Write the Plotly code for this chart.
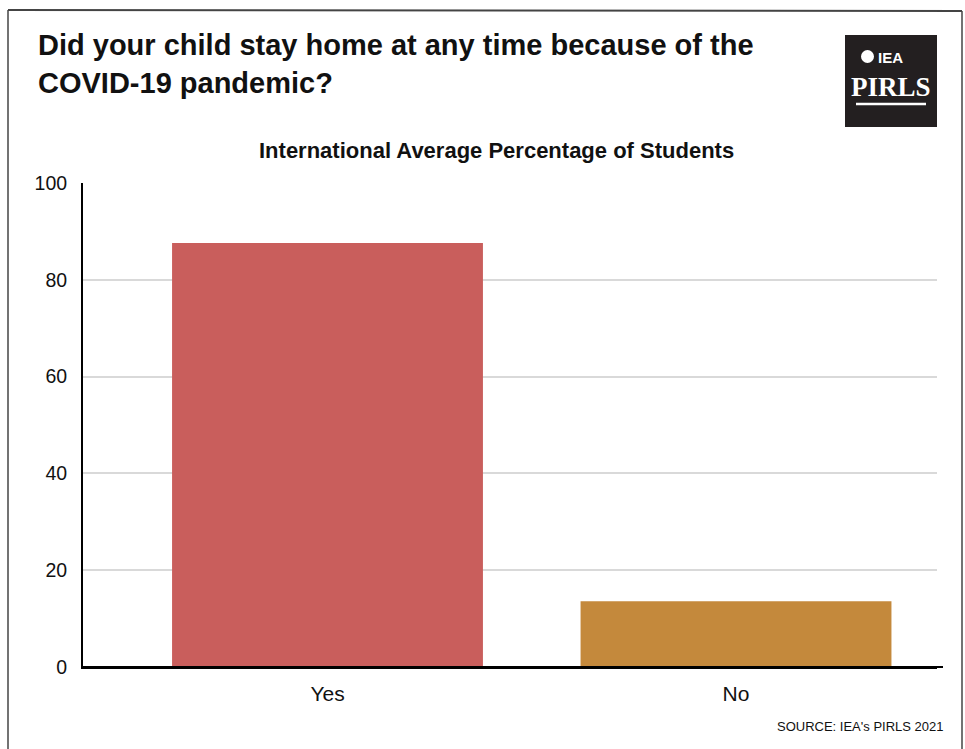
import plotly.graph_objects as go

categories = ["Yes", "No"]
values = [87.6, 13.6]
bar_colors = ["#C95E5C", "#C4893C"]
y_ticks = [0, 20, 40, 60, 80, 100]

W, H = 965, 749
L, R, T, B = 83, 937, 183, 667  # plot area in px

def px(x):
    return (x - L) / (R - L)

def py(y):
    return (B - y) / (B - T)

fig = go.Figure(go.Bar(
    x=categories, y=values, marker_color=bar_colors, width=0.761,
    marker_line_width=0, hoverinfo="x+y",
))

shapes = [
    # outer frame
    dict(type="line", xref="paper", yref="paper", x0=px(8), y0=py(10), x1=px(962), y1=py(11),
         line=dict(color="#444", width=2)),
    dict(type="line", xref="paper", yref="paper", x0=px(8), y0=py(10), x1=px(8), y1=py(760),
         line=dict(color="#444", width=1.5)),
    dict(type="line", xref="paper", yref="paper", x0=px(962), y0=py(11), x1=px(962), y1=py(760),
         line=dict(color="#444", width=1.5)),
    # x-axis line extension to the right
    dict(type="line", xref="paper", yref="paper", x0=px(83), y0=py(667), x1=px(943), y1=py(667),
         line=dict(color="black", width=2), layer="above"),
    # logo box
    dict(type="rect", xref="paper", yref="paper", x0=px(845), y0=py(35), x1=px(937), y1=py(127),
         fillcolor="#231F20", line=dict(width=0), layer="above"),
    dict(type="line", xref="paper", yref="paper", x0=px(856), y0=py(104), x1=px(926), y1=py(104),
         line=dict(color="white", width=2.5), layer="above"),
    dict(type="circle", xref="paper", yref="paper", x0=px(861), y0=py(50), x1=px(874), y1=py(63),
         fillcolor="white", line=dict(width=0), layer="above"),
]

annotations = [
    dict(text="<b>Did your child stay home at any time because of the<br>COVID-19 pandemic?</b>",
         xref="paper", yref="paper", x=px(36), y=py(27), xanchor="left", yanchor="top",
         align="left", showarrow=False,
         font=dict(family="Liberation Sans, Arial", size=29, color="#111")),
    dict(text="<b>International Average Percentage of Students</b>",
         xref="paper", yref="paper", x=px(496), y=py(150), xanchor="center", yanchor="middle",
         showarrow=False, font=dict(family="Liberation Sans, Arial", size=22, color="#111")),
    dict(text="SOURCE: IEA's PIRLS 2021",
         xref="paper", yref="paper", x=px(946), y=py(726), xanchor="right", yanchor="middle",
         showarrow=False, font=dict(family="Liberation Sans, Arial", size=13, color="#111")),
    dict(text="<b>IEA</b>",
         xref="paper", yref="paper", x=px(876), y=py(57), xanchor="left", yanchor="middle",
         showarrow=False, font=dict(family="Liberation Sans, Arial", size=15, color="white")),
    dict(text="<b>PIRLS</b>",
         xref="paper", yref="paper", x=px(891), y=py(87), xanchor="center", yanchor="middle",
         showarrow=False, font=dict(family="Liberation Serif, DejaVu Serif", size=27, color="white")),
]

fig.update_layout(
    width=W, height=H,
    margin=dict(l=L, r=W - R, t=T, b=H - B, pad=0),
    paper_bgcolor="white", plot_bgcolor="white",
    showlegend=False,
    shapes=shapes, annotations=annotations,
    xaxis=dict(
        type="category", range=[-0.5985, 1.492],
        showgrid=False, showline=True, linecolor="black", linewidth=2,
        ticks="", ticklabelstandoff=7,
        tickfont=dict(family="Liberation Sans, Arial", size=21, color="#111"),
        zeroline=False, fixedrange=True,
    ),
    yaxis=dict(
        range=[0, 100], tickvals=y_ticks,
        showgrid=True, gridcolor="#D9D9D9", gridwidth=2,
        showline=True, linecolor="black", linewidth=2,
        zeroline=False, ticks="", ticklabelstandoff=10,
        tickfont=dict(family="Liberation Sans, Arial", size=19.5, color="#111"),
        fixedrange=True,
    ),
    bargap=0.2,
)

fig.write_html("out.html")
